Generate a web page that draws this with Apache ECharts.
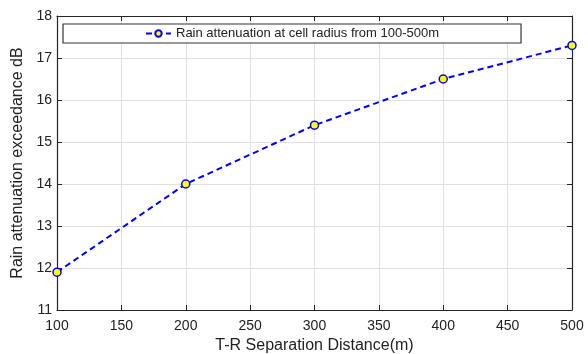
<!DOCTYPE html>
<html>
<head>
<meta charset="utf-8">
<script src="https://cdn.jsdelivr.net/npm/echarts@6/dist/echarts.min.js"></script>
<style>
  html, body { margin: 0; padding: 0; background: #fff; }
  #main { width: 588px; height: 354px; }
</style>
</head>
<body>
<div id="main"></div>
<script>
// data
var distances = [100, 200, 300, 400, 500];
var attenuation = [11.9, 14.0, 15.4, 16.5, 17.3];
var seriesName = 'Rain attenuation at cell radius from 100-500m';

var font = 'Liberation Sans, Arial, sans-serif';
var axisCol = '#262626';
var gridCol = '#e0e0e0';

var chart = echarts.init(document.getElementById('main'));

function boxAxis(extra) {
    return Object.assign({
        type: 'value',
        axisLine: { show: true, onZero: false, lineStyle: { color: axisCol, width: 1.2 } },
        axisTick: { show: true, inside: true, length: 5, lineStyle: { color: axisCol } },
        splitLine: { show: false },
        axisLabel: { show: false }
    }, extra);
}

chart.setOption({
    animation: false,
    backgroundColor: '#fff',
    grid: { left: 57, right: 16, top: 16, bottom: 44, outerBoundsMode: 'none' },
    legend: {
        data: [seriesName],
        left: 63,
        top: 24,
        padding: [3, 82],
        itemWidth: 25,
        itemHeight: 8,
        itemGap: 5,
        borderColor: '#333',
        borderWidth: 1.2,
        backgroundColor: '#fff',
        textStyle: { fontFamily: font, fontSize: 13, color: '#222' }
    },
    xAxis: [
        boxAxis({
            min: 100, max: 500, interval: 50,
            name: 'T-R Separation Distance(m)',
            nameLocation: 'middle',
            nameGap: 22,
            nameTextStyle: { fontFamily: font, fontSize: 16, color: '#222' },
            axisLabel: { show: true, fontFamily: font, fontSize: 14, color: '#222', margin: 9 },
            splitLine: { show: true, lineStyle: { color: gridCol, width: 1 } }
        }),
        boxAxis({ position: 'top', min: 100, max: 500, interval: 50 })
    ],
    yAxis: [
        boxAxis({
            min: 11, max: 18, interval: 1,
            name: 'Rain attenuation exceedance dB',
            nameLocation: 'middle',
            nameGap: 30,
            nameTextStyle: { fontFamily: font, fontSize: 16, color: '#222' },
            axisLabel: { show: true, fontFamily: font, fontSize: 14, color: '#222', margin: 5 },
            splitLine: { show: true, lineStyle: { color: gridCol, width: 1 } }
        }),
        boxAxis({ position: 'right', min: 11, max: 18, interval: 1 })
    ],
    series: [{
        name: seriesName,
        type: 'line',
        data: distances.map(function (d, i) { return [d, attenuation[i]]; }),
        symbol: 'circle',
        symbolSize: 8,
        lineStyle: { color: '#0000ff', width: 2, type: [6, 4] },
        itemStyle: { color: '#ffff00', borderColor: '#0000ff', borderWidth: 1.5 },
        clip: false
    }]
});
</script>
</body>
</html>
